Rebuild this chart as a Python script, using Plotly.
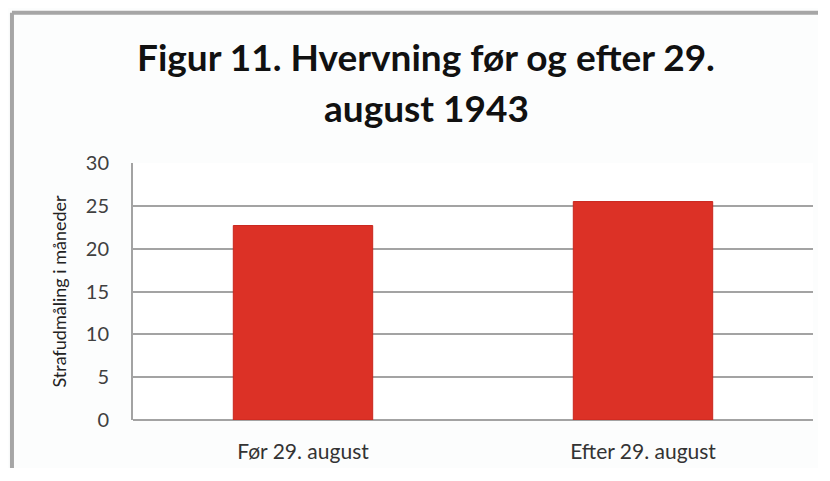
import plotly.graph_objects as go

# data
categories = ["Før 29. august", "Efter 29. august"]
months = [22.7, 25.5]
y_ticks = [0, 5, 10, 15, 20, 25, 30]
title_lines = ["Figur 11. Hvervning før og efter 29.", "august 1943"]

fig = go.Figure()
fig.add_trace(go.Bar(
    x=categories,
    y=months,
    marker=dict(color="#dc3126", line=dict(color="#c9261d", width=1)),
    width=0.41,
))

# title is drawn as two annotations so the line spacing can match
title_font = dict(family="Lato", size=37, color="#111111", weight="bold")
for txt, ypos in zip(title_lines, [1.415, 1.215]):
    fig.add_annotation(text=txt, x=0.431, y=ypos, xref="paper", yref="paper",
                       xanchor="center", yanchor="middle", showarrow=False,
                       font=title_font)

# outer grey frame: only the top and left edges show in the crop
frame = dict(color="#a6a6a6", width=4)
fig.add_shape(type="line", xref="paper", yref="paper",
              x0=-0.178, x1=1.05, y0=1.585, y1=1.585, line=frame)
fig.add_shape(type="line", xref="paper", yref="paper",
              x0=-0.178, x1=-0.178, y0=-0.3, y1=1.585, line=frame)

fig.update_layout(
    width=810, height=460,
    paper_bgcolor="#fcfdfd",
    plot_bgcolor="#ffffff",
    margin=dict(l=125, r=5, t=155, b=45),
    showlegend=False,
    font=dict(family="Lato", color="#333333"),
    xaxis=dict(
        showgrid=False,
        showline=False,
        tickfont=dict(size=21, color="#333333"),
        ticklabelstandoff=17,
    ),
    yaxis=dict(
        range=[0, 30],
        tickvals=y_ticks,
        showgrid=True,
        gridcolor="#a3a3a3",
        gridwidth=2,
        zeroline=True,
        zerolinecolor="#a3a3a3",
        zerolinewidth=2,
        showline=True,
        linecolor="#a3a3a3",
        linewidth=2,
        tickfont=dict(size=20, color="#404040"),
        ticklabelstandoff=18,
        title=dict(text="Strafudmåling i måneder", font=dict(size=18, color="#222222"), standoff=14),
    ),
)

fig.write_html("out.html")
